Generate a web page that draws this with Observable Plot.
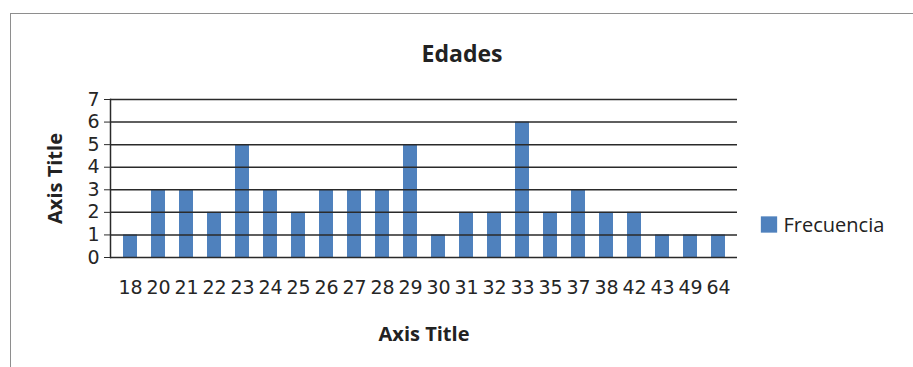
<!DOCTYPE html>
<html>
<head>
<meta charset="utf-8">
<script src="https://cdn.jsdelivr.net/npm/d3@7"></script>
<script src="https://cdn.jsdelivr.net/npm/@observablehq/plot@0.6"></script>
<style>
  html, body { margin: 0; padding: 0; background: #fff; }
  #wrap { position: relative; width: 913px; height: 367px; overflow: hidden; }
  #border { position: absolute; left: 10px; top: 13px; right: -5px; bottom: -5px;
            border-left: 1.5px solid #8e8e8e; border-top: 1.5px solid #8e8e8e; }
  #chart { position: absolute; left: 0; top: 0; }
  #chart g[aria-label="y-axis tick label"], #chart g[aria-label="x-axis tick label"] {
    font-family: 'DejaVu Sans', sans-serif; fill: #262626;
  }
</style>
</head>
<body>
<div id="wrap"><div id="border"></div><div id="chart"></div></div>
<script>
// Ages and how many people have each age
const edades = ["18","20","21","22","23","24","25","26","27","28","29","30","31","32","33","35","37","38","42","43","49","64"];
const frecuencia = [1,3,3,2,5,3,2,3,3,3,5,1,2,2,6,2,3,2,2,1,1,1];
const yTicks = [0,1,2,3,4,5,6,7];
const serieNombre = "Frecuencia";
const titulo = "Edades";
const tituloEjeX = "Axis Title";
const tituloEjeY = "Axis Title";

const data = edades.map((e, i) => ({edad: e, n: frecuencia[i]}));
const font = "'Open Sans', sans-serif";
const barColor = "#4f81bd";

const chart = Plot.plot({
  width: 913,
  height: 367,
  marginLeft: 110,
  marginRight: 176,
  marginTop: 99,
  marginBottom: 110,
  style: {fontFamily: font, background: "transparent", color: "#222"},
  x: {domain: edades, paddingInner: 0.5, paddingOuter: 0.25},
  y: {domain: [0, 7]},
  marks: [
    Plot.barY(data, {x: "edad", y: "n", fill: barColor}),
    Plot.ruleY(yTicks, {stroke: "#2a2a2a", strokeWidth: 1.5}),
    Plot.frame({anchor: "left", stroke: "#2a2a2a", strokeWidth: 1.5}),
    Plot.axisY({ticks: yTicks, tickFormat: "d", tickSize: 6, tickPadding: 5, fontSize: 19, label: null, stroke: "#2a2a2a"}),
    Plot.axisX({tickSize: 0, tickPadding: 23, fontSize: 19, label: null}),
    Plot.text([titulo], {frameAnchor: "top", dx: 38, dy: -54, fontSize: 23, fontWeight: "bold"}),
    Plot.text([tituloEjeX], {frameAnchor: "bottom", dy: 83, fontSize: 20, fontWeight: "bold"}),
    Plot.text([tituloEjeY], {frameAnchor: "left", dx: -55, rotate: -90, textAnchor: "middle", fontSize: 20, fontWeight: "bold"}),
    Plot.dot([serieNombre], {frameAnchor: "right", dx: 31.5, dy: 46, symbol: "square", r: 9.2, fill: barColor, stroke: null}),
    Plot.text([serieNombre], {frameAnchor: "right", dx: 46, dy: 47, textAnchor: "start", fontSize: 20})
  ]
});
document.getElementById("chart").appendChild(chart);
</script>
</body>
</html>
